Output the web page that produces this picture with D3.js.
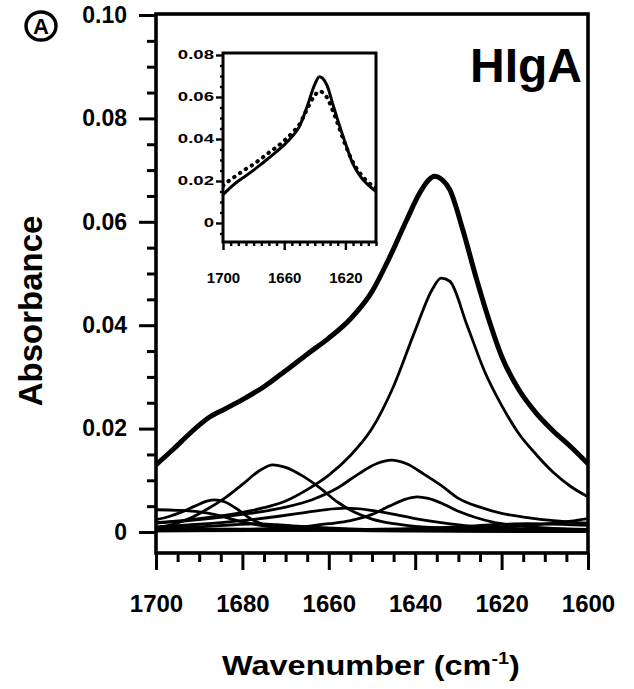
<!DOCTYPE html>
<html><head><meta charset="utf-8">
<script src="https://cdn.jsdelivr.net/npm/d3@7"></script>
<style>
body{margin:0;background:#fff}
svg text{font-family:"Liberation Sans",Arial,Helvetica,sans-serif;font-weight:bold;fill:#000}
</style>
</head><body>
<svg id="c" width="634" height="689"></svg>
<script>
// ---------- DATA (wavenumber cm-1, absorbance) ----------
const xTickValues = [1700,1680,1660,1640,1620,1600];
const xTickLabels = ["1700","1680","1660","1640","1620","1600"];
const yTickValues = [0,0.02,0.04,0.06,0.08,0.10];
const yTickLabels = ["0","0.02","0.04","0.06","0.08","0.10"];
const insetXTickValues = [1700,1660,1620];
const insetXTickLabels = ["1700","1660","1620"];
const insetYTickValues = [0,0.02,0.04,0.06,0.08];
const insetYTickLabels = ["0","0.02","0.04","0.06","0.08"];

// overall spectrum (measured + fitted sum overlap)
const totalSpectrum = [[1700,0.0130],[1696,0.0160],[1692,0.0192],[1688,0.0220],[1684,0.0238],[1680,0.0256],[1675,0.0281],[1670,0.0312],[1665,0.0344],[1660,0.0375],[1655,0.0412],[1650,0.0465],[1646,0.0530],[1642,0.0603],[1639,0.0655],[1637,0.0680],[1635.5,0.0688],[1634,0.0683],[1632,0.0662],[1629,0.0585],[1626,0.0495],[1623,0.0412],[1620,0.0340],[1616,0.0275],[1612,0.0230],[1608,0.0195],[1604,0.0165],[1600,0.0132]];

// component bands
const band1634 = [[1700,0.0018],[1690,0.0026],[1680,0.0038],[1675,0.0047],[1670,0.0060],[1665,0.0082],[1660,0.0110],[1655,0.0148],[1650,0.0200],[1645,0.0282],[1640,0.0390],[1636,0.0470],[1634,0.0491],[1632,0.0485],[1628,0.0400],[1624,0.0312],[1620,0.0245],[1616,0.0190],[1612,0.0150],[1608,0.0115],[1604,0.0088],[1600,0.0068]];
const band1645 = [[1700,0.0017],[1690,0.0024],[1680,0.0034],[1670,0.0048],[1664,0.0062],[1658,0.0085],[1653,0.0113],[1649,0.0132],[1645.5,0.0139],[1642,0.0132],[1638,0.0112],[1634,0.0090],[1630,0.0065],[1625,0.0048],[1620,0.0036],[1614,0.0028],[1608,0.0022],[1600,0.0017]];
const band1673 = [[1700,0.0008],[1696,0.0015],[1692,0.0027],[1688,0.0045],[1684,0.0066],[1680,0.0092],[1676,0.0119],[1673,0.0130],[1670,0.0125],[1666,0.0108],[1662,0.0085],[1658,0.0058],[1654,0.0038],[1650,0.0025],[1645,0.0016],[1640,0.0011],[1630,0.0007],[1615,0.0005],[1600,0.0004]];
const band1640 = [[1700,0.0003],[1680,0.0005],[1670,0.0008],[1665,0.0011],[1660,0.0016],[1655,0.0022],[1650,0.0034],[1646,0.0050],[1642,0.0064],[1639.5,0.0068],[1637,0.0065],[1634,0.0056],[1630,0.0040],[1626,0.0028],[1622,0.0019],[1616,0.0012],[1610,0.0008],[1600,0.0005]];
const band1687 = [[1700,0.0024],[1697,0.0030],[1694,0.0039],[1691,0.0050],[1688,0.0060],[1686.5,0.0062],[1684,0.0058],[1681,0.0043],[1678,0.0025],[1675,0.0014],[1671,0.0008],[1665,0.0005],[1655,0.0003],[1640,0.0002],[1600,0.0001]];
const band1700 = [[1700,0.0043],[1695,0.0042],[1690,0.0039],[1686,0.0033],[1682,0.0024],[1678,0.0016],[1674,0.0011],[1668,0.0007],[1660,0.0004],[1645,0.0002],[1600,0.0001]];
const band1656 = [[1700,0.0010],[1690,0.0015],[1680,0.0022],[1672,0.0030],[1666,0.0037],[1661,0.0043],[1656,0.0046],[1651,0.0043],[1646,0.0036],[1640,0.0026],[1634,0.0018],[1628,0.0012],[1620,0.0008],[1610,0.0005],[1600,0.0004]];
const band1677 = [[1700,0.0006],[1690,0.0010],[1682,0.0014],[1677,0.0016],[1672,0.0014],[1665,0.0010],[1655,0.0006],[1640,0.0003],[1600,0.0001]];
const band1614 = [[1700,0.0002],[1660,0.0004],[1640,0.0007],[1630,0.0010],[1622,0.0014],[1614,0.0016],[1606,0.0015],[1600,0.0013]];
const band1598 = [[1700,0.0002],[1660,0.0003],[1640,0.0005],[1630,0.0007],[1620,0.0010],[1614,0.0013],[1609,0.0016],[1604,0.0021],[1600,0.0026]];
const baseline = [[1700,0.0005],[1650,0.0004],[1600,0.0004]];

// inset: fitted sum (solid) and measured spectrum (dotted)
const insetFit = [[1700,0.0135],[1695,0.0170],[1690,0.0200],[1685,0.0225],[1680,0.0252],[1675,0.0280],[1670,0.0310],[1665,0.0340],[1660,0.0372],[1655,0.0410],[1650,0.0460],[1645,0.0555],[1640,0.0660],[1637,0.0697],[1635,0.0690],[1632,0.0655],[1628,0.0560],[1625,0.0490],[1620,0.0380],[1615,0.0280],[1610,0.0220],[1605,0.0180],[1600,0.0150]];
const insetMeasured = [[1700,0.0178],[1695,0.0207],[1690,0.0232],[1685,0.0257],[1680,0.0280],[1675,0.0307],[1670,0.0335],[1665,0.0362],[1660,0.0392],[1655,0.0427],[1650,0.0470],[1645,0.0543],[1640,0.0608],[1637,0.0628],[1635,0.0622],[1632,0.0597],[1628,0.0530],[1625,0.0472],[1620,0.0372],[1615,0.0288],[1610,0.0233],[1605,0.0193],[1600,0.0168]];

const components = [band1634, band1645, band1673, band1640, band1687, band1700, band1656, band1677, band1614, band1598];

// ---------- MAIN CHART ----------
const svg = d3.select("#c");
const L = 156, R = 588, T = 14, B = 553;
const x = d3.scaleLinear().domain([1700,1600]).range([L,R]);
const y = d3.scaleLinear().domain([0,0.1]).range([532,15]);

const defs = svg.append("defs");
defs.append("clipPath").attr("id","clipMain").append("rect")
  .attr("x",L).attr("y",T).attr("width",R-L).attr("height",B-T);

const line = d3.line().x(d=>x(d[0])).y(d=>y(d[1])).curve(d3.curveMonotoneX);
const gCurves = svg.append("g").attr("clip-path","url(#clipMain)");
gCurves.append("path").attr("d", line(baseline)).attr("fill","none").attr("stroke","#000").attr("stroke-width",3.6);
components.forEach(c=>{
  gCurves.append("path").attr("d", line(c)).attr("fill","none")
    .attr("stroke","#000").attr("stroke-width",2.8).attr("stroke-linejoin","round");
});
gCurves.append("path").attr("d", line(totalSpectrum)).attr("fill","none")
  .attr("stroke","#000").attr("stroke-width",5).attr("stroke-linejoin","round");

// Y axis (major + minor)
const yMinor = d3.range(0, 0.1001, 0.005).filter(v=>Math.abs(Math.round(v*50)-v*50)>1e-6);
svg.append("g").attr("transform",`translate(${L},0)`)
  .call(d3.axisLeft(y).tickValues(yMinor).tickSize(9).tickFormat(""))
  .call(g=>g.select(".domain").remove())
  .call(g=>g.selectAll("line").attr("stroke","#000").attr("stroke-width",3));
svg.append("g").attr("transform",`translate(${L},0)`)
  .call(d3.axisLeft(y).tickValues(yTickValues).tickSize(17).tickPadding(12).tickFormat((d,i)=>yTickLabels[i]))
  .call(g=>g.select(".domain").remove())
  .call(g=>g.selectAll("line").attr("stroke","#000").attr("stroke-width",3))
  .call(g=>g.selectAll("text").attr("font-size",23).attr("fill","#000"));

// X axis (major + minor)
const xMinor = d3.range(1700, 1599, -5).filter(v=>v%20!==0);
svg.append("g").attr("transform",`translate(0,${B})`)
  .call(d3.axisBottom(x).tickValues(xMinor).tickSize(9).tickFormat(""))
  .call(g=>g.select(".domain").remove())
  .call(g=>g.selectAll("line").attr("stroke","#000").attr("stroke-width",3));
svg.append("g").attr("transform",`translate(0,${B})`)
  .call(d3.axisBottom(x).tickValues(xTickValues).tickSize(17).tickPadding(25).tickFormat((d,i)=>xTickLabels[i]))
  .call(g=>g.select(".domain").remove())
  .call(g=>g.selectAll("line").attr("stroke","#000").attr("stroke-width",3))
  .call(g=>g.selectAll("text").attr("font-size",24).attr("fill","#000"));

// frame
svg.append("rect").attr("x",L).attr("y",T).attr("width",R-L).attr("height",B-T)
  .attr("fill","none").attr("stroke","#000").attr("stroke-width",3.6);

// ---------- INSET ----------
const iL = 223, iR = 376, iT = 53, iB = 242;
const xi = d3.scaleLinear().domain([1700,1600]).range([iL,iR]);
const yi = d3.scaleLinear().domain([0,0.08]).range([223,55]);
defs.append("clipPath").attr("id","clipInset").append("rect")
  .attr("x",iL).attr("y",iT).attr("width",iR-iL).attr("height",iB-iT);
const iline = d3.line().x(d=>xi(d[0])).y(d=>yi(d[1])).curve(d3.curveMonotoneX);
const gi = svg.append("g").attr("clip-path","url(#clipInset)");
gi.append("path").attr("d", iline(insetMeasured)).attr("fill","none")
  .attr("stroke","#000").attr("stroke-width",4).attr("stroke-linecap","round")
  .attr("stroke-dasharray","0.5,6.5");
gi.append("path").attr("d", iline(insetFit)).attr("fill","none")
  .attr("stroke","#000").attr("stroke-width",3).attr("stroke-linejoin","round");

const iyMinor = d3.range(-0.005, 0.0801, 0.005).filter(v=>Math.abs(Math.round(v*50)-v*50)>1e-6);
svg.append("g").attr("transform",`translate(${iL},0)`)
  .call(d3.axisLeft(yi).tickValues(iyMinor).tickSize(3).tickFormat(""))
  .call(g=>g.select(".domain").remove())
  .call(g=>g.selectAll("line").attr("stroke","#000").attr("stroke-width",2.4));
const insetYScaleX = 1.55;
svg.append("g").attr("transform",`translate(${iL},0)`)
  .call(d3.axisLeft(yi).tickValues(insetYTickValues).tickSize(7).tickPadding(2).tickFormat((d,i)=>insetYTickLabels[i]))
  .call(g=>g.select(".domain").remove())
  .call(g=>g.selectAll("line").attr("stroke","#000").attr("stroke-width",2.4))
  .call(g=>g.selectAll("text").attr("font-size",12).attr("fill","#000")
      .attr("x", -9/insetYScaleX).attr("transform",`scale(${insetYScaleX},1)`));

const ixMinor = d3.range(1700, 1599, -5).filter(v=>v!==1700 && v!==1660 && v!==1620);
svg.append("g").attr("transform",`translate(0,${iB})`)
  .call(d3.axisBottom(xi).tickValues(ixMinor).tickSize(4).tickFormat(""))
  .call(g=>g.select(".domain").remove())
  .call(g=>g.selectAll("line").attr("stroke","#000").attr("stroke-width",2.4));
svg.append("g").attr("transform",`translate(0,${iB})`)
  .call(d3.axisBottom(xi).tickValues(insetXTickValues).tickSize(8).tickPadding(22).tickFormat((d,i)=>insetXTickLabels[i]))
  .call(g=>g.select(".domain").remove())
  .call(g=>g.selectAll("line").attr("stroke","#000").attr("stroke-width",2.4))
  .call(g=>g.selectAll("text").attr("font-size",15).attr("fill","#000"));

svg.append("rect").attr("x",iL).attr("y",iT).attr("width",iR-iL).attr("height",iB-iT)
  .attr("fill","none").attr("stroke","#000").attr("stroke-width",3);

// ---------- TEXT ----------
svg.append("text").attr("x",582).attr("y",82).attr("text-anchor","end")
  .attr("font-size",48).text("HIgA");

svg.append("text").attr("transform","translate(42,311) rotate(-90)")
  .attr("text-anchor","middle").attr("font-size",33).text("Absorbance");

const xt = svg.append("text").attr("font-size",28);
xt.append("tspan").text("Wavenumber (cm");
xt.append("tspan").attr("font-size",17).attr("dy",-11).text("-1");
xt.append("tspan").attr("dy",11).text(")");
const w = xt.node().getBBox().width;
const targetW = 298;
xt.attr("transform",`translate(${371-targetW/2},675) scale(${targetW/w},1)`);

// circled panel letter
svg.append("ellipse").attr("cx",41).attr("cy",26).attr("rx",15).attr("ry",14)
  .attr("fill","none").attr("stroke","#000").attr("stroke-width",3.4);
svg.append("text").attr("x",41).attr("y",34).attr("text-anchor","middle")
  .attr("font-size",22).text("A");
</script>
</body></html>
